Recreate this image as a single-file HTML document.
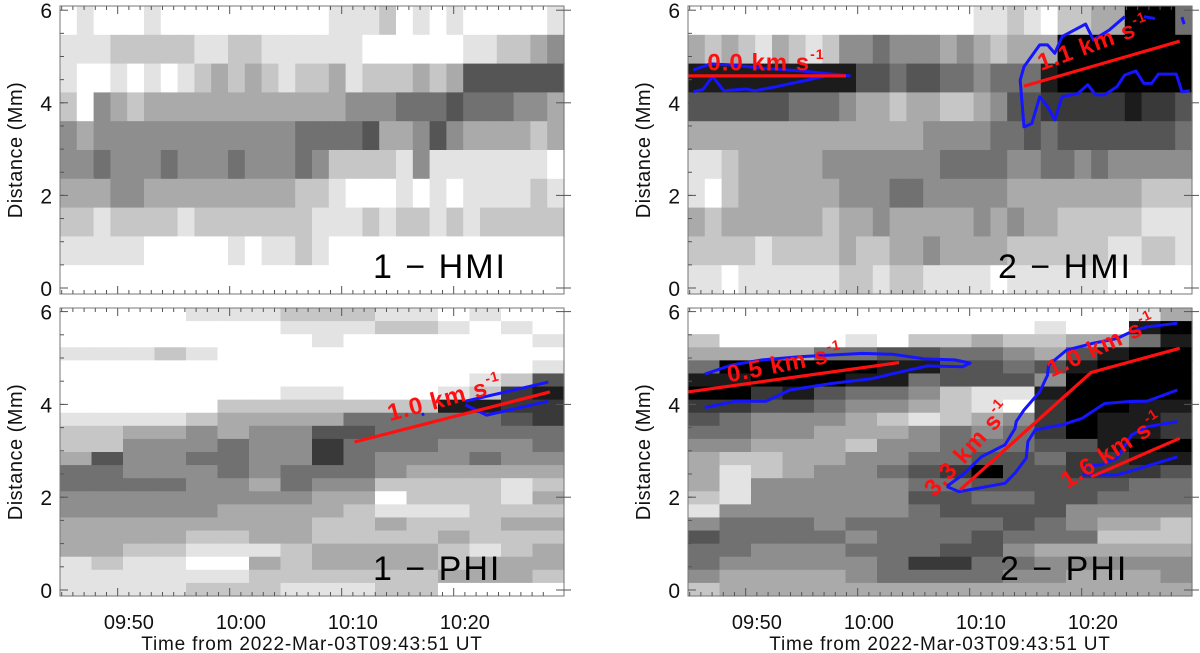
<!DOCTYPE html>
<html><head><meta charset="utf-8"><style>
html,body{margin:0;padding:0;background:#fff}
svg{display:block;font-family:"Liberation Sans",sans-serif}
</style></head><body>
<svg id="fig" width="1200" height="653" viewBox="0 0 1200 653"></svg>
<script>
// ---- data ----
const tickTimes = [6.15, 16.15, 26.15, 36.15];
const tickTimeLabels = ["09:50","10:00","10:10","10:20"];
const distTicks = [0,2,4,6];
const hmi1 = ["989998999999999988879898999998","888777778877888888999999887765","899898987676787768777676333333","795676666666666665554443444556","565555555555554444366535666676","554555455545554577778588888889","666556666666667789998989888878","778777787777777888787787877777","888889999989887899999999999999","999999999999999999999999999999"];
const hmi2 = ["999999999999999998878977660004","676786787554555656766600000000","111111111133433445444100000000","333333444566766776533222221223","666666666666665555443433333334","887666665555555444455445455555","897666666555445555566666666777","676666667665666665656677777888","777787777677665666677777788778","889888888778778888988888899999"];
const phi1 = ["9999888777889899","9999999888778989","9999999989999998","8887899999999999","9999999999999998","9999999999999873","9999999889998721","9999977777771122","8888766664444432","7766565533444444","7755545524445554","6355445524555455","4455545444566666","4444556455777787","5555555566977786","5555566667888777","6666666677677766","6666776677776777","6677888766667876","8788996766667666","8888887777776667","8888777888779999"];
const phi2 = ["9999999999999986","9999999999989910","7999989776776641","6666443344563100","4000001133431000","1100011433350000","0021344578810000","2233455678920011","3455567876520112","4455666545420112","5566675544433100","6776655443342211","6876554320332223","6855555443333344","7855555334433444","8555555433335555","5444544444345667","3444454443444777","4455544433566666","4555554224455555","5666654444556665","7666666666666666"];
// fit lines [t(min), d(Mm)]
const fit1phi = [[[26.3,3.19],[43.75,4.27]]];
const fit2hmi = [[[0,4.58],[14.1,4.58]],[[30.0,4.36],[43.9,5.33]]];
const fit2phi = [[[0,4.27],[18.85,4.90]],[[24.3,2.16],[36.0,4.69],[43.9,5.21]],[[36.0,2.44],[43.9,3.27]]];
// contours [t, d]
const cont1phi = [[[36.2,4.07],[43.6,4.48]],[[36.2,3.99],[38.1,3.77],[43.6,4.07]],[[32.3,3.77],[32.5,3.80]]];
const cont2hmi = [
 [[0.47,4.71],[2.0,4.84],[3.56,4.82],[6.65,4.75],[10.1,4.69],[12.8,4.62],[14.4,4.58],[13.0,4.62],[10.6,4.49],[7.9,4.35],[5.9,4.26],[5.25,4.30],[3.2,4.26],[2.2,4.57],[1.35,4.29],[0.47,4.24]],
 [[39.0,5.86],[37.6,5.57],[36.2,5.36],[35.5,5.70],[33.4,5.43],[32.75,5.07],[32.1,5.25],[31.4,5.25],[30.0,4.78],[29.66,4.49],[30.0,3.48],[30.7,3.55],[31.4,4.13],[32.1,3.92],[32.75,3.63],[33.4,4.13],[34.8,4.20],[35.7,4.39],[36.4,4.17],[37.2,4.17],[38.3,4.35],[39.0,4.6],[40.0,4.69],[40.7,4.42],[41.4,4.42],[42.0,4.62],[43.6,4.62],[44.1,4.24],[44.8,4.26]],
 [[40.7,5.86],[41.7,5.82]],[[44.1,5.85],[44.3,5.70]]];
const cont2phi = [
 [[1.5,4.65],[3.9,4.85],[6.65,4.96],[10.1,5.03],[15.6,5.10],[18.3,5.08],[21.1,4.98],[23.8,4.96],[25.2,4.89],[24.5,4.81],[21.4,4.83],[19.7,4.74],[16.3,4.55],[12.8,4.45],[9.1,4.31],[7.0,4.07],[4.25,4.07],[1.5,3.93]],
 [[23.1,2.23],[24.5,2.48],[26.2,2.87],[28.3,3.13],[29.2,3.48],[29.3,3.63],[30.0,3.88],[31.4,4.27],[32.1,4.63],[32.2,4.85],[33.8,5.17],[36.2,5.32],[38.3,5.42],[39.6,5.57],[41.0,5.67],[43.7,5.75]],
 [[23.1,2.23],[24.2,2.12],[28.3,2.30],[29.2,2.52],[30.2,2.84],[30.35,3.20],[31.0,3.45],[33.4,3.56],[35.2,3.70],[37.2,4.02],[39.3,4.06],[41.0,4.07],[43.7,4.31]],
 [[35.2,2.66],[36.9,2.70],[38.3,2.84],[39.6,3.34],[41.0,3.52],[43.7,3.63]],
 [[35.2,2.48],[38.3,2.48],[40.3,2.62],[43.7,2.87]]];

const NS="http://www.w3.org/2000/svg";
const svg=document.getElementById('fig');
function mk(tag,attrs,parent){const e=document.createElementNS(NS,tag);for(const k in attrs)e.setAttribute(k,attrs[k]);(parent||svg).appendChild(e);return e;}

function panel(cfg){
  const g=mk('g',{});
  
  
  const L=cfg.x0,R=cfg.x1,T=cfg.top,B=cfg.bot;
  const xs=t=>L+t*11.2;
  const ys=d=>cfg.y0-d*cfg.ppm;
  const hm=mk('g',{},g);
  
  
  const rows=cfg.data.length, rh=(B-T)/rows;
  cfg.data.forEach((row,ri)=>{
    const cw=(R-L)/row.length;
    for(let ci=0;ci<row.length;ci++){
      const v=Math.round(parseInt(row[ci])/9*255);
      const c=mk('rect',{x:(L+ci*cw).toFixed(2),y:(T+ri*rh).toFixed(2),width:(cw+0.6).toFixed(2),height:(rh+0.6).toFixed(2),fill:`rgb(${v},${v},${v})`},hm);
      
      
    }
  });
  cfg.cont.forEach(pts=>{
    const p=mk('polyline',{points:pts.map(q=>xs(q[0]).toFixed(1)+','+ys(q[1]).toFixed(1)).join(' '),fill:'none',stroke:'#1515ff','stroke-width':3,'stroke-linejoin':'round'},g);
    
    
  });
  cfg.fits.forEach(pts=>{
    const p=mk('polyline',{points:pts.map(q=>xs(q[0]).toFixed(1)+','+ys(q[1]).toFixed(1)).join(' '),fill:'none',stroke:'#ff1010','stroke-width':3.2},g);
    
    
  });
  cfg.labels.forEach(l=>{
    const t=mk('text',{x:l[0],y:l[1],transform:`rotate(${l[2]} ${l[0]} ${l[1]})`,fill:'#ff1010','font-size':24,'font-weight':'bold','text-anchor':'middle','dominant-baseline':'middle','letter-spacing':'1'},g);
    t.innerHTML=l[3]+' km s<tspan dy="-9" font-size="14">-1</tspan>';
    
    
  });
  const fr=mk('rect',{x:L,y:T,width:R-L,height:B-T,fill:'none',stroke:'#777','stroke-width':1},g);
  
  
  distTicks.forEach(d=>{
    const y=ys(d);
    mk('line',{x1:L,x2:L+8,y1:y,y2:y,stroke:'#555'},g);
    mk('line',{x1:R-8,x2:R+7,y1:y,y2:y,stroke:'#555'},g);
    const t=mk('text',{x:L-8,y:y+8,'font-size':21,'text-anchor':'end',fill:'#111'},g);
    t.textContent=d;
    
    
  });
  for(let d=0.5;d<6;d+=0.5){const y=ys(d);mk('line',{x1:L,x2:L+4,y1:y,y2:y,stroke:'#555'},g);}
  for(let m=1;m<45;m++){const x=L+(m-0.85)*11.2;if(x>R)break;const major=(m%10)==6;
    mk('line',{x1:x,x2:x,y1:B,y2:B-(major?8:4),stroke:'#555'},g);
    mk('line',{x1:x,x2:x,y1:T,y2:T+(major?8:4),stroke:'#555'},g);}
  if(cfg.xlabels){
    tickTimes.forEach((tt,i)=>{
      const t=mk('text',{x:xs(tt),y:629,'font-size':20,'text-anchor':'middle',fill:'#111'},g);
      t.textContent=tickTimeLabels[i];
      
      
    });
    const xt=mk('text',{x:(L+R)/2,y:650,'font-size':19,'text-anchor':'middle',fill:'#111','letter-spacing':'0.8'},g);
    xt.textContent='Time from 2022-Mar-03T09:43:51 UT';
    
    
  }
  const yt=mk('text',{x:cfg.ytx,y:(T+B)/2,'font-size':20,'text-anchor':'middle',fill:'#111','letter-spacing':'0.5',transform:`rotate(-90 ${cfg.ytx} ${(T+B)/2})`},g);
  yt.textContent='Distance (Mm)';
  
  
  const pl=mk('text',{x:cfg.plx,y:cfg.ply,'font-size':34,fill:'#000','font-weight':300,'letter-spacing':'2','xml:space':'preserve'},g);
  pl.textContent=cfg.ptitle;
  
  
}

panel({name:'panel-1-hmi',x0:60,x1:564,top:6,bot:294,y0:288,ppm:46.3,data:hmi1,cont:[],fits:[],labels:[],xlabels:false,ytx:22,plx:373,ply:278,ptitle:'1 \u2212  HMI'});
panel({name:'panel-1-phi',x0:60,x1:564,top:308,bot:596,y0:590,ppm:46.4,data:phi1,cont:cont1phi,fits:fit1phi,labels:[[445,400,-15,'1.0']],xlabels:true,ytx:22,plx:373,ply:580,ptitle:'1 \u2212  PHI'});
panel({name:'panel-2-hmi',x0:688,x1:1192,top:6,bot:294,y0:288,ppm:46.3,data:hmi2,cont:cont2hmi,fits:fit2hmi,labels:[[766,64,0,'0.0'],[1094,45,-20,'1.1']],xlabels:false,ytx:650,plx:998,ply:278,ptitle:'2 \u2212  HMI'});
panel({name:'panel-2-phi',x0:688,x1:1192,top:308,bot:596,y0:590,ppm:46.4,data:phi2,cont:cont2phi,fits:fit2phi,labels:[[785,365,-11,'0.5'],[1102,347,-25,'1.0'],[969,450,-48,'3.3'],[1113,452,-33,'1.6']],xlabels:true,ytx:650,plx:1000,ply:580,ptitle:'2 \u2212  PHI'});
</script>
</body></html>
